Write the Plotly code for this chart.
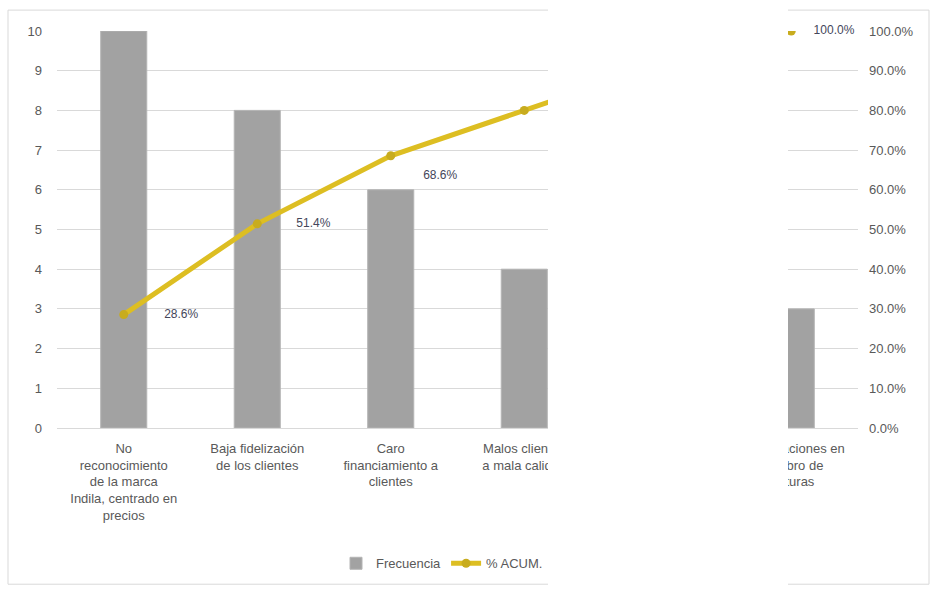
import numpy as np
import plotly.graph_objects as go

# ---- data ----
categories = [
    "No<br>reconocimiento<br>de la marca<br>Indila, centrado en<br>precios",
    "Baja fidelización<br>de los clientes",
    "Caro<br>financiamiento a<br>clientes",
    "Malos clientes<br>a mala calidad",
    "Falta de<br>publicidad",
    "Reclamaciones en<br>el cobro de<br>facturas",
]
frecuencia = [10, 8, 6, 4, 4, 3]
left_ticks = list(range(0, 11))
right_ticks = [i / 10 for i in range(0, 11)]

cum_pct = np.cumsum(frecuencia) / np.sum(frecuencia)
pct_labels = [f"{v*100:.1f}%" for v in cum_pct]

# label placement (styling offsets, in category / percent units)
lab_dx = [0.43, 0.42, 0.37, 0.36, 0.36, 0.32]
lab_dy = [0.0, 0.0, -0.05, -0.03, -0.03, 0.0]

idx = list(range(len(categories)))

font_family = "Liberation Sans"
txt_gray = "#595959"
grid = "#D9D9D9"

fig = go.Figure()
fig.add_trace(go.Bar(
    x=idx, y=frecuencia, name="Frecuencia",
    marker=dict(color="#A2A2A2", line=dict(color="#B4B4B4", width=1)),
    width=0.345, hoverinfo="skip",
))
fig.add_trace(go.Scatter(
    x=idx, y=list(cum_pct), name="% ACUM.", yaxis="y2",
    mode="lines+markers",
    line=dict(color="#DDBE22", width=5),
    marker=dict(color="#C8AC1E", size=9),
    hoverinfo="skip",
))
fig.add_trace(go.Scatter(
    x=[i + d for i, d in zip(idx, lab_dx)],
    y=[v + d for v, d in zip(cum_pct, lab_dy)],
    yaxis="y2", mode="text", text=pct_labels,
    textfont=dict(family=font_family, size=12, color="#44465A"),
    showlegend=False, hoverinfo="skip", cliponaxis=False,
))

W, H = 933, 590
L, R, T, B = 57, 75, 31, 160
pw, ph = W - L - R, H - T - B

def px_x(x):
    return (x - L) / pw

def px_y(y):
    return (H - B - y) / ph

fig.update_layout(
    width=W, height=H,
    margin=dict(l=L, r=R, t=T, b=B),
    paper_bgcolor="white", plot_bgcolor="white",
    font=dict(family=font_family, size=13, color=txt_gray),
    xaxis=dict(
        range=[-0.5, 5.5], tickvals=idx, ticktext=categories,
        showgrid=False, showline=True, linecolor=grid, linewidth=1,
        ticks="", tickangle=0, tickfont=dict(size=13, color=txt_gray),
        zeroline=False, fixedrange=True, ticklabelstandoff=8,
    ),
    yaxis=dict(
        range=[0, 10], tickvals=left_ticks, showgrid=True, gridcolor=grid,
        zeroline=False, ticks="", tickfont=dict(size=13, color=txt_gray),
        ticklabelstandoff=14,
    ),
    yaxis2=dict(
        range=[0, 1], tickvals=right_ticks, tickformat=".1%", overlaying="y",
        side="right", showgrid=False, zeroline=False, ticks="",
        tickfont=dict(size=13, color=txt_gray), ticklabelstandoff=10,
    ),
    legend=dict(
        orientation="h", x=px_x(336), xanchor="left", y=px_y(566),
        yanchor="middle", font=dict(size=13, color=txt_gray),
        bgcolor="rgba(0,0,0,0)", itemwidth=30,
    ),
    shapes=[
        dict(type="rect", xref="paper", yref="paper",
             x0=px_x(8), x1=px_x(929), y0=px_y(587), y1=px_y(10),
             line=dict(color=grid, width=1), fillcolor="rgba(0,0,0,0)",
             layer="below"),
        dict(type="rect", xref="paper", yref="paper",
             x0=px_x(548), x1=px_x(788), y0=px_y(592), y1=px_y(-2),
             line=dict(width=0), fillcolor="white", layer="above"),
    ],
)

fig.write_html("out.html")
